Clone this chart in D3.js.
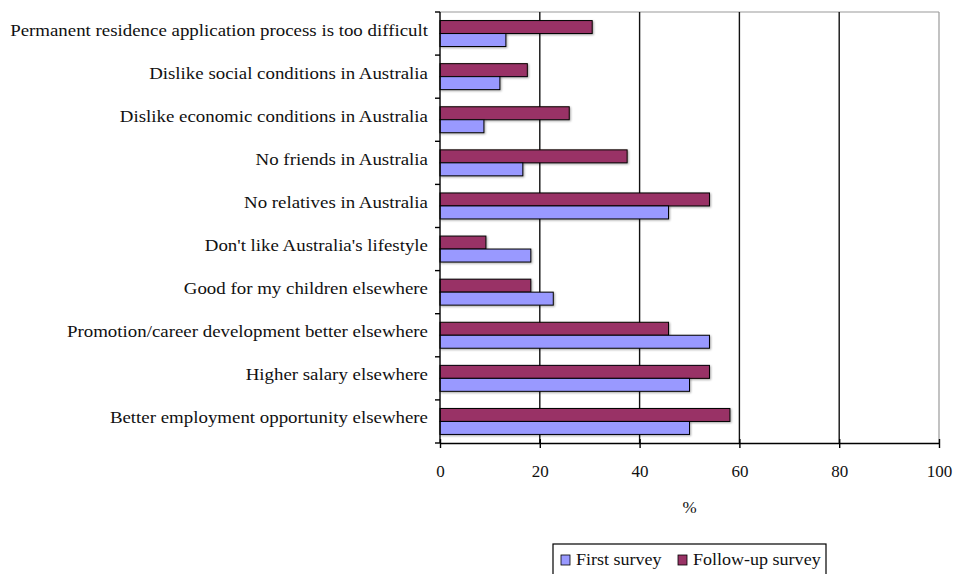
<!DOCTYPE html>
<html>
<head>
<meta charset="utf-8">
<script src="https://cdn.jsdelivr.net/npm/d3@7"></script>
<style>
  html, body { margin: 0; padding: 0; background: #fff; }
  svg { display: block; }
  text { font-family: "Liberation Serif", "Times New Roman", serif; fill: #111; }
</style>
</head>
<body>
<svg id="chart" width="958" height="574"></svg>
<script>
// Reasons for leaving Australia, % of respondents
const categories = [
  "Permanent residence application process is too difficult",
  "Dislike social conditions in Australia",
  "Dislike economic conditions in Australia",
  "No friends in Australia",
  "No relatives in Australia",
  "Don't like Australia's lifestyle",
  "Good for my children elsewhere",
  "Promotion/career development better elsewhere",
  "Higher salary elsewhere",
  "Better employment opportunity elsewhere"
];
const firstSurvey    = [13.2, 12.0, 8.8, 16.6, 45.8, 18.2, 22.7, 54.0, 50.0, 50.0];
const followUpSurvey = [30.5, 17.5, 25.9, 37.5, 54.0, 9.2, 18.2, 45.8, 54.0, 58.1];
const seriesNames  = ["First survey", "Follow-up survey"];
const seriesColors = ["#9999ff", "#993366"];
const xTicks = [0, 20, 40, 60, 80, 100];
const xTitle = "%";

const svg = d3.select("#chart");
const plot = { left: 440, right: 939, top: 12, bottom: 443 };
const fontSize = 17;
const widen = 1.11; // horizontal stretch applied to the serif labels

const x = d3.scaleLinear().domain([0, 100]).range([plot.left, plot.right]);
const y = d3.scaleBand().domain(categories).range([plot.top, plot.bottom]);
// two bars per category: follow-up on top, first survey beneath
const inner = d3.scaleBand().domain(["follow", "first"])
  .range([0, y.bandwidth()]).paddingOuter(0.66).paddingInner(0);

const rows = categories.map((c, i) => ({ c, first: firstSurvey[i], follow: followUpSurvey[i] }));

function stretch(sel, k) {
  sel.each(function () {
    const w = this.getComputedTextLength();
    d3.select(this).attr("textLength", w * k).attr("lengthAdjust", "spacingAndGlyphs");
  });
}

// plot frame (top and right in grey)
svg.append("line").attr("x1", plot.left).attr("x2", plot.right)
  .attr("y1", plot.top).attr("y2", plot.top).attr("stroke", "#9a9a9a").attr("stroke-width", 1.2);
svg.append("line").attr("x1", plot.right).attr("x2", plot.right)
  .attr("y1", plot.top).attr("y2", plot.bottom).attr("stroke", "#9a9a9a").attr("stroke-width", 1.2);

// vertical gridlines
svg.append("g").selectAll("line").data(xTicks.filter(t => t > 0 && t < 100)).join("line")
  .attr("x1", d => x(d)).attr("x2", d => x(d))
  .attr("y1", plot.top).attr("y2", plot.bottom)
  .attr("stroke", "#111").attr("stroke-width", 1.4);

// bars with a soft drop shadow
const defs = svg.append("defs");
const f = defs.append("filter").attr("id", "shadow").attr("x", "-5%").attr("y", "-20%").attr("width", "115%").attr("height", "160%");
f.append("feDropShadow").attr("dx", 1).attr("dy", 1).attr("stdDeviation", 0.8).attr("flood-color", "#000").attr("flood-opacity", 0.35);

const groups = svg.append("g").selectAll("g").data(rows).join("g")
  .attr("transform", d => `translate(0,${y(d.c)})`);

groups.append("rect")
  .attr("x", x(0)).attr("y", inner("follow"))
  .attr("width", d => x(d.follow) - x(0)).attr("height", inner.bandwidth())
  .attr("fill", seriesColors[1]).attr("stroke", "#000").attr("stroke-width", 1)
  .attr("filter", "url(#shadow)");
groups.append("rect")
  .attr("x", x(0)).attr("y", inner("first"))
  .attr("width", d => x(d.first) - x(0)).attr("height", inner.bandwidth())
  .attr("fill", seriesColors[0]).attr("stroke", "#000").attr("stroke-width", 1)
  .attr("filter", "url(#shadow)");

// left category axis with outward ticks at band boundaries
const yAxis = svg.append("g");
yAxis.append("line").attr("x1", plot.left).attr("x2", plot.left)
  .attr("y1", plot.top).attr("y2", plot.bottom).attr("stroke", "#000").attr("stroke-width", 1.4);
yAxis.selectAll("line.tick").data(categories.map(c => y(c)).concat([plot.bottom])).join("line")
  .attr("class", "tick")
  .attr("x1", plot.left - 5).attr("x2", plot.left)
  .attr("y1", d => d).attr("y2", d => d).attr("stroke", "#000").attr("stroke-width", 1.4);
yAxis.selectAll("text").data(categories).join("text")
  .attr("x", plot.left - 12).attr("y", d => y(d) + y.bandwidth() / 2 + 2)
  .attr("text-anchor", "end")
  .attr("font-size", fontSize).text(d => d)
  .call(stretch, widen);

// bottom value axis
const xAxis = svg.append("g").attr("transform", `translate(0,${plot.bottom})`)
  .call(d3.axisBottom(x).tickValues(xTicks).tickSize(0).tickPadding(22));
xAxis.select(".domain").attr("stroke", "#000").attr("stroke-width", 1.4);
xAxis.selectAll(".tick text").attr("font-size", fontSize).attr("font-family", "Liberation Serif").attr("fill", "#111")
  .attr("dy", "0.7em");
xAxis.selectAll(".tick").append("line").attr("y1", -4).attr("y2", 5)
  .attr("stroke", "#000").attr("stroke-width", 1.4);

svg.append("text").attr("x", (plot.left + plot.right) / 2).attr("y", 513)
  .attr("text-anchor", "middle").attr("font-size", fontSize).text(xTitle);

// legend
const legend = svg.append("g").attr("transform", "translate(553,544)");
legend.append("rect").attr("x", 0).attr("y", 0).attr("width", 273).attr("height", 34)
  .attr("fill", "#fff").attr("stroke", "#000").attr("stroke-width", 1.2);
const items = [{ name: seriesNames[0], color: seriesColors[0], dx: 8 },
               { name: seriesNames[1], color: seriesColors[1], dx: 125 }];
const li = legend.selectAll("g").data(items).join("g")
  .attr("transform", d => `translate(${d.dx},0)`);
li.append("rect").attr("x", 0).attr("y", 11).attr("width", 9).attr("height", 10)
  .attr("fill", d => d.color).attr("stroke", "#000").attr("stroke-width", 0.8);
li.append("text").attr("x", 15).attr("y", 21)
  .attr("font-size", fontSize).text(d => d.name)
  .call(stretch, 1.06);
</script>
</body>
</html>
